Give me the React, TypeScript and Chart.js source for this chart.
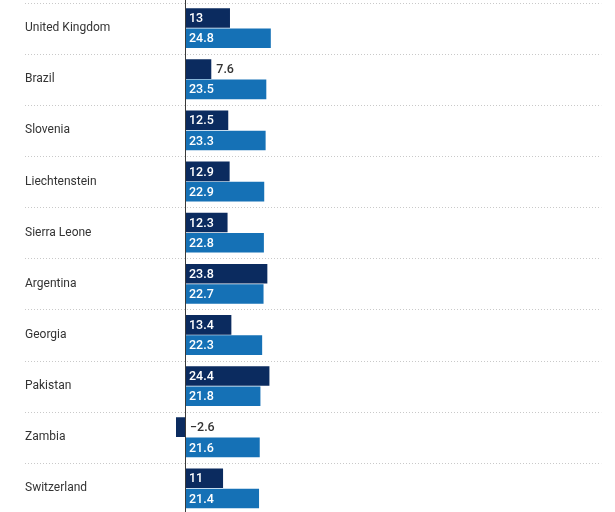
import React, { useEffect, useRef } from "react";
import { Chart, registerables } from "chart.js";

Chart.register(...registerables);

const countries = [
  "United Kingdom",
  "Brazil",
  "Slovenia",
  "Liechtenstein",
  "Sierra Leone",
  "Argentina",
  "Georgia",
  "Pakistan",
  "Zambia",
  "Switzerland",
];
const seriesA = [13, 7.6, 12.5, 12.9, 12.3, 23.8, 13.4, 24.4, -2.6, 11];
const seriesB = [24.8, 23.5, 23.3, 22.9, 22.8, 22.7, 22.3, 21.8, 21.6, 21.4];

const DARK = "#0b2b5f";
const BLUE = "#1571b6";
const FONT = "Roboto, 'Noto Sans', sans-serif";

const fmt = (v: number) => (v < 0 ? "\u2212" + Math.abs(v) : String(v));

// dotted separators between rows plus the zero baseline
const gridPlugin = {
  id: "rowGrid",
  beforeDatasetsDraw(chart: any) {
    const { ctx, scales, chartArea } = chart;
    const y = scales.y;
    ctx.save();
    ctx.strokeStyle = "#c9c9c9";
    ctx.lineWidth = 1;
    ctx.setLineDash([1, 2]);
    for (let i = 0; i <= countries.length; i++) {
      const py = Math.round(y.getPixelForValue(i - 0.5)) + 0.5;
      ctx.beginPath();
      ctx.moveTo(25, py);
      ctx.lineTo(chartArea.right + 1, py);
      ctx.stroke();
    }
    ctx.restore();
  },
  afterDatasetsDraw(chart: any) {
    const { ctx, scales } = chart;
    const x0 = Math.round(scales.x.getPixelForValue(0)) + 0.5;
    ctx.save();
    ctx.strokeStyle = "#3a3a3a";
    ctx.lineWidth = 1;
    ctx.beginPath();
    ctx.moveTo(x0, 0);
    ctx.lineTo(x0, chart.height);
    ctx.stroke();
    ctx.restore();
  },
};

// value labels: inside the bar in white when it fits, otherwise dark beside it
const valuePlugin = {
  id: "valueLabels",
  afterDatasetsDraw(chart: any) {
    const { ctx } = chart;
    ctx.save();
    ctx.font = `500 12.5px ${FONT}`;
    ctx.textBaseline = "middle";
    ctx.textAlign = "left";
    chart.data.datasets.forEach((ds: any, di: number) => {
      const meta = chart.getDatasetMeta(di);
      meta.data.forEach((bar: any, i: number) => {
        const v = ds.data[i];
        const text = fmt(v);
        const w = ctx.measureText(text).width;
        const len = Math.abs(bar.x - bar.base);
        if (v > 0 && w + 12 <= len) {
          ctx.fillStyle = "#ffffff";
          ctx.fillText(text, bar.base + 4, bar.y + 1);
        } else {
          ctx.fillStyle = "#333333";
          ctx.fillText(text, Math.max(bar.x, bar.base) + 5, bar.y + 1);
        }
      });
    });
    ctx.restore();
  },
};

export default function App() {
  const ref = useRef<HTMLCanvasElement>(null);

  useEffect(() => {
    if (!ref.current) return;
    const chart = new Chart(ref.current, {
      type: "bar",
      data: {
        labels: countries,
        datasets: [
          {
            label: "A",
            data: seriesA,
            backgroundColor: DARK,
            borderWidth: 0,
            categoryPercentage: 0.79,
            barPercentage: 0.97,
          },
          {
            label: "B",
            data: seriesB,
            backgroundColor: BLUE,
            borderWidth: 0,
            categoryPercentage: 0.79,
            barPercentage: 0.97,
          },
        ],
      },
      options: {
        indexAxis: "y",
        animation: false,
        responsive: true,
        maintainAspectRatio: false,
        layout: { padding: { left: 25, right: 14.8, top: 2.5, bottom: 0 } },
        plugins: {
          legend: { display: false },
          tooltip: { enabled: false },
        },
        scales: {
          x: {
            min: -10,
            max: 120,
            display: false,
            grid: { display: false },
          },
          y: {
            grid: { display: false },
            border: { display: false },
            afterFit: (s: any) => {
              s.width = 125.4;
              s.paddingTop = 0;
              s.paddingBottom = 0;
            },
            ticks: {
              crossAlign: "far",
              color: "#333333",
              font: { family: FONT, size: 12 },
            },
          },
        },
      },
      plugins: [gridPlugin, valuePlugin],
    });
    return () => chart.destroy();
  }, []);

  return (
    <div
      style={{
        position: "fixed",
        left: 0,
        top: 0,
        width: 615,
        height: 514,
        background: "#ffffff",
      }}
    >
      <canvas ref={ref} />
    </div>
  );
}
